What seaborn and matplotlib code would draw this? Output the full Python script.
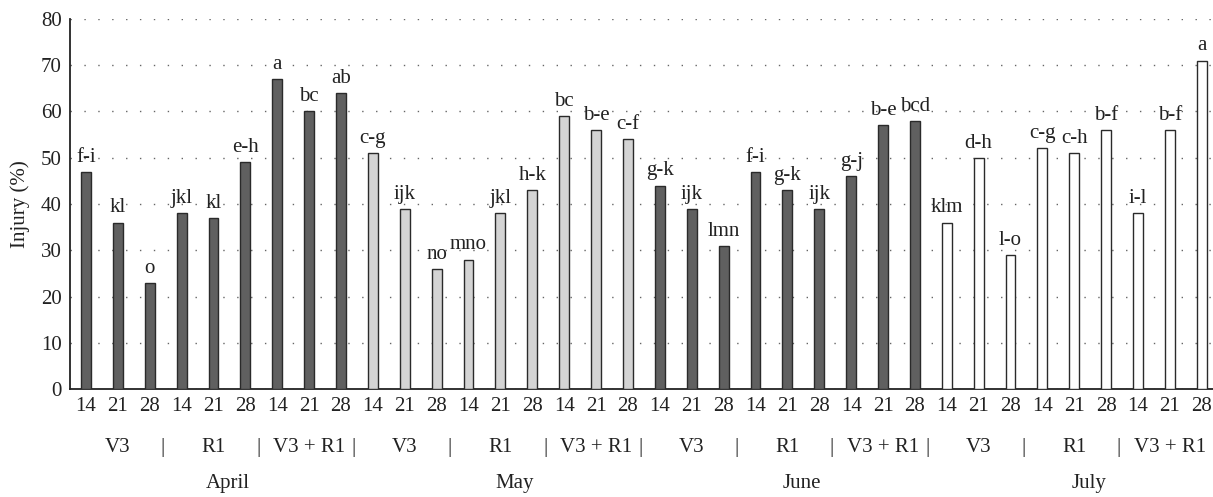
import numpy as np
import pandas as pd
import matplotlib
matplotlib.use('Agg')
import matplotlib.pyplot as plt
import matplotlib.transforms as mtransforms
import seaborn as sns

# Data
months = ['April', 'May', 'June', 'July']
stages = ['V3', 'R1', 'V3 + R1']
days = ['14', '21', '28']

injury_april = [47, 36, 23, 38, 37, 49, 67, 60, 64]
injury_may = [51, 39, 26, 28, 38, 43, 59, 56, 54]
injury_june = [44, 39, 31, 47, 43, 39, 46, 57, 58]
injury_july = [36, 50, 29, 52, 51, 56, 38, 56, 71]

letters_april = ['f-i', 'kl', 'o', 'jkl', 'kl', 'e-h', 'a', 'bc', 'ab']
letters_may = ['c-g', 'ijk', 'no', 'mno', 'jkl', 'h-k', 'bc', 'b-e', 'c-f']
letters_june = ['g-k', 'ijk', 'lmn', 'f-i', 'g-k', 'ijk', 'g-j', 'b-e', 'bcd']
letters_july = ['klm', 'd-h', 'l-o', 'c-g', 'c-h', 'b-f', 'i-l', 'b-f', 'a']

month_colors = {'April': '#606060', 'May': '#d4d4d4', 'June': '#606060', 'July': '#ffffff'}

# Build long table
rows = []
all_vals = [injury_april, injury_may, injury_june, injury_july]
all_letters = [letters_april, letters_may, letters_june, letters_july]
for m, vals, lets in zip(months, all_vals, all_letters):
    k = 0
    for s in stages:
        for d in days:
            rows.append({'Month': m, 'Stage': s, 'Day': d,
                         'Key': f'{m} {s} {d}', 'Injury': vals[k], 'Letter': lets[k]})
            k += 1
df = pd.DataFrame(rows)

sns.set_style('white')
plt.rcParams['font.family'] = ['Liberation Serif', 'DejaVu Serif']
fs = 15

fig = plt.figure(figsize=(12.13, 4.97), dpi=100)
ax = fig.add_axes([0.0577, 0.217, 0.9423, 0.745])

sns.barplot(data=df, x='Key', y='Injury', hue='Month', order=list(df['Key']),
            palette=month_colors, dodge=False, width=0.31, edgecolor='#2a2a2a',
            linewidth=1.0, legend=False, ax=ax, zorder=3)

# significance letters
for i, row in df.iterrows():
    ax.text(i, row['Injury'] + 1.1, row['Letter'], ha='center', va='bottom',
            fontsize=fs, color='#222222')

ax.set_ylim(0, 80)
ax.set_xlim(-0.5, 35.35)
ax.set_yticks(range(0, 81, 10))
ax.set_xticks(range(len(df)))
ax.set_xticklabels(df['Day'])
ax.tick_params(axis='both', length=0, labelsize=fs, colors='#222222')
ax.tick_params(axis='x', pad=6)
ax.tick_params(axis='y', pad=6)
ax.set_xlabel('')
ax.set_ylabel('Injury (%)', fontsize=fs, color='#222222', labelpad=8)

ax.set_axisbelow(True)
ax.yaxis.grid(True, linestyle=(0, (1, 9)), color='#666666', linewidth=1.0)
ax.xaxis.grid(False)

for side in ['top', 'right']:
    ax.spines[side].set_visible(False)
for side in ['left', 'bottom']:
    ax.spines[side].set_color('#222222')
    ax.spines[side].set_linewidth(1.3)

trans = mtransforms.blended_transform_factory(ax.transData, ax.transAxes)

# stage labels and separators
n_groups = len(months) * len(stages)
for g in range(n_groups):
    ax.text(g * 3 + 1, -0.157, stages[g % 3], transform=trans, ha='center',
            va='center', fontsize=fs, color='#222222')
    if g < n_groups - 1:
        ax.text(g * 3 + 2.4, -0.157, '|', transform=trans, ha='center',
                va='center', fontsize=fs, color='#222222')

# month labels
for j, m in enumerate(months):
    ax.text(j * 9 + 4.45, -0.254, m, transform=trans, ha='center',
            va='center', fontsize=fs, color='#222222')

plt.savefig('out.png', dpi=100)
plt.close()
